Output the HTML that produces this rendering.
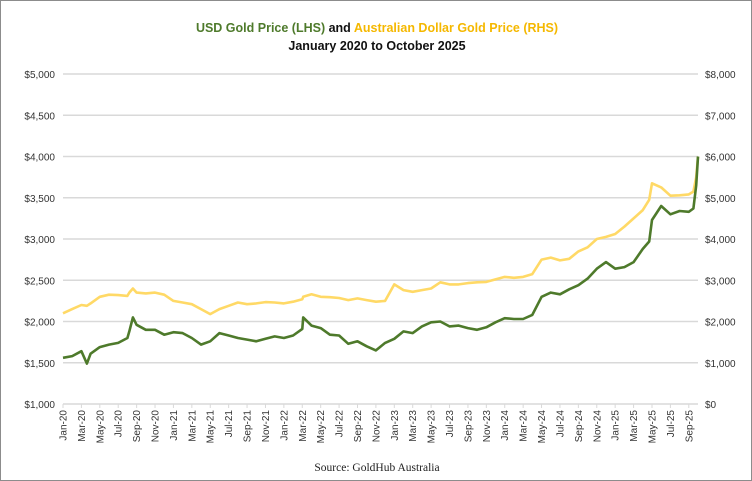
<!DOCTYPE html>
<html><head><meta charset="utf-8">
<style>
html,body{margin:0;padding:0;background:#fff;}
#wrap{position:relative;width:752px;height:481px;box-sizing:border-box;border:1px solid #8c8c8c;overflow:hidden;}
svg{position:absolute;left:0;top:0;}
</style></head>
<body>
<div id="wrap">
<svg id="chart" width="752" height="481"></svg>
</div>
<script>
const xLabels=["Jan-20","Mar-20","May-20","Jul-20","Sep-20","Nov-20","Jan-21","Mar-21","May-21","Jul-21","Sep-21","Nov-21","Jan-22","Mar-22","May-22","Jul-22","Sep-22","Nov-22","Jan-23","Mar-23","May-23","Jul-23","Sep-23","Nov-23","Jan-24","Mar-24","May-24","Jul-24","Sep-24","Nov-24","Jan-25","Mar-25","May-25","Jul-25","Sep-25"];
const leftTicks=[1000,1500,2000,2500,3000,3500,4000,4500,5000];
const rightTicks=[0,1000,2000,3000,4000,5000,6000,7000,8000];
// month index from Jan-2020 (0)
const months=[0,1,2,2.6,3,4,5,6,7,7.2,7.6,8,9,10,11,12,13,14,15,16,17,18,19,20,21,22,23,24,25,26,26.1,27,28,29,30,31,32,33,34,35,36,37,38,39,40,41,42,43,44,45,46,47,48,49,50,51,52,53,54,55,56,57,58,59,60,61,62,63,63.7,64,65,66,67,68,68.5,68.8,69];
const usd=[1560,1580,1640,1490,1610,1690,1720,1740,1800,1880,2050,1960,1900,1900,1840,1870,1860,1800,1720,1760,1860,1830,1800,1780,1760,1790,1820,1800,1830,1910,2050,1950,1920,1840,1830,1730,1760,1700,1650,1740,1790,1880,1860,1940,1990,2000,1940,1950,1920,1900,1930,1990,2040,2030,2030,2080,2300,2350,2330,2390,2440,2520,2640,2720,2640,2660,2720,2880,2970,3230,3400,3300,3340,3330,3370,3650,4000,4200,4080,3970];
const aud=[2200,2300,2400,2380,2440,2600,2650,2640,2620,2700,2800,2700,2680,2700,2650,2500,2460,2420,2300,2180,2300,2380,2460,2420,2440,2470,2460,2440,2480,2540,2600,2660,2600,2590,2570,2520,2560,2520,2480,2500,2900,2760,2720,2760,2800,2950,2900,2900,2930,2950,2960,3020,3080,3060,3080,3150,3500,3550,3480,3520,3700,3800,4000,4050,4120,4300,4500,4700,4950,5350,5250,5050,5060,5080,5150,5500,6000,6650,6300,6080];

const X0=62,X1=697,YT=73,YB=403,MMAX=69;
const xs=m=>X0+(m/MMAX)*(X1-X0);
const yL=v=>YB-(v-1000)/4000*(YB-YT);
const yR=v=>YB-v/8000*(YB-YT);
const NS="http://www.w3.org/2000/svg";
const svg=document.getElementById('chart');
function mk(t,a,txt){const e=document.createElementNS(NS,t);for(const k in a)e.setAttribute(k,a[k]);if(txt!==undefined)e.textContent=txt;svg.appendChild(e);return e;}

const t1=mk('text',{x:376,y:31,'text-anchor':'middle','font-family':'Liberation Sans, sans-serif','font-size':'12.5','font-weight':'bold'});


const s1=document.createElementNS(NS,'tspan');s1.setAttribute('fill','#4e7a2b');s1.textContent='USD Gold Price (LHS) ';t1.appendChild(s1);
const s2=document.createElementNS(NS,'tspan');s2.setAttribute('fill','#111');s2.textContent='and ';t1.appendChild(s2);
const s3=document.createElementNS(NS,'tspan');s3.setAttribute('fill','#f5b800');s3.textContent='Australian Dollar Gold Price (RHS)';t1.appendChild(s3);
const t2=mk('text',{x:376,y:49,'text-anchor':'middle','font-family':'Liberation Sans, sans-serif','font-size':'12.5','font-weight':'bold',fill:'#111'},'January 2020 to October 2025');



leftTicks.forEach(v=>{
  const g=mk('line',{x1:X0,x2:X1,y1:yL(v),y2:yL(v),stroke:'#d9d9d9','stroke-width':1.5});
  
  
  const l=mk('text',{x:54,y:yL(v)+4,'text-anchor':'end','font-family':'Liberation Sans, sans-serif','font-size':'10',fill:'#333'},'$'+v.toLocaleString('en-US'));
  
  
});
rightTicks.forEach(v=>{
  const l=mk('text',{x:704,y:yR(v)+4,'text-anchor':'start','font-family':'Liberation Sans, sans-serif','font-size':'10',fill:'#333'},'$'+v.toLocaleString('en-US'));
  
  
});
xLabels.forEach((s,i)=>{
  const x=xs(i*2);
  const tk=mk('line',{x1:x,x2:x,y1:YB,y2:YB+4,stroke:'#d9d9d9','stroke-width':1});
  
  
  const l=mk('text',{x:0,y:0,transform:`translate(${x+3.5},${YB+6}) rotate(-90)`,'text-anchor':'end','font-family':'Liberation Sans, sans-serif','font-size':'10',fill:'#333'},s);
  
  
});
const pa=months.map((m,i)=>(i?'L':'M')+xs(m).toFixed(1)+','+yR(aud[i]).toFixed(1)).join(' ');
const la=mk('path',{d:pa,fill:'none',stroke:'#ffd966','stroke-width':2.6,'stroke-linejoin':'round'});


const pu=months.map((m,i)=>(i?'L':'M')+xs(m).toFixed(1)+','+yL(usd[i]).toFixed(1)).join(' ');
const lu=mk('path',{d:pu,fill:'none',stroke:'#4e7a2b','stroke-width':2.6,'stroke-linejoin':'round'});


const src=mk('text',{x:376,y:470,'text-anchor':'middle','font-family':'Liberation Serif, serif','font-size':'11.5',fill:'#222'},'Source: GoldHub Australia');


</script>
</body></html>
